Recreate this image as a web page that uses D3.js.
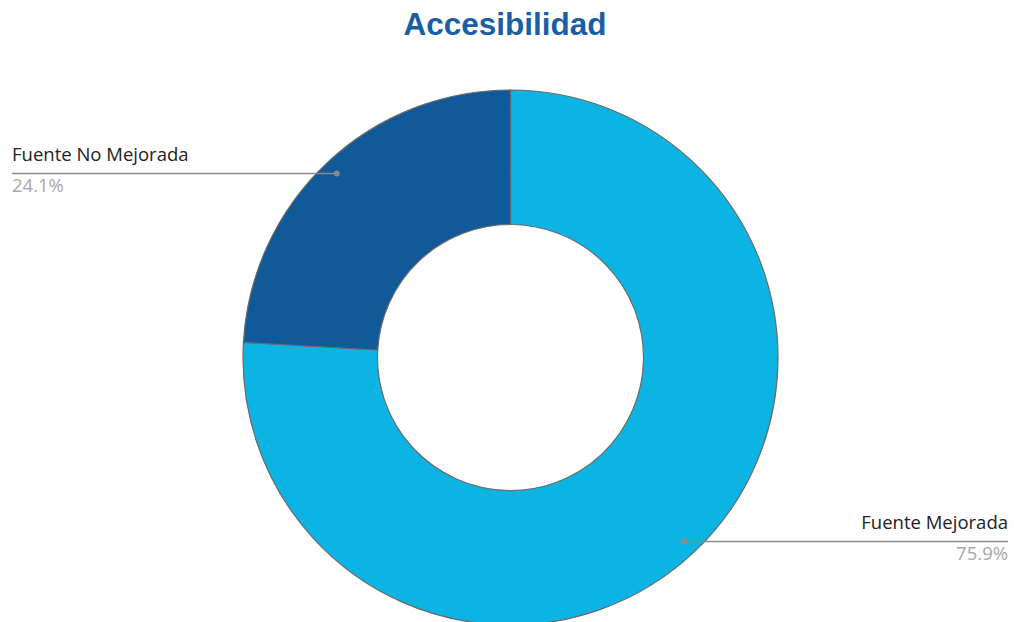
<!DOCTYPE html>
<html>
<head>
<meta charset="utf-8">
<script src="https://cdn.jsdelivr.net/npm/d3@7"></script>
<style>
  html, body { margin: 0; padding: 0; background: #ffffff; }
  svg { display: block; }
</style>
</head>
<body>
<svg id="chart" width="1014" height="622"></svg>
<script>
// Access to water source, share of households
const categories = ["Fuente Mejorada", "Fuente No Mejorada"];
const values = [75.9, 24.1];
const valueLabels = ["75.9%", "24.1%"];
const colors = ["#0cb4e4", "#115a99"];
const title = "Accesibilidad";

const svg = d3.select("#chart");
const cx = 510.5, cy = 357.5;
const outerR = 267.5, innerR = 133;

svg.append("text")
  .attr("x", 505)
  .attr("y", 35)
  .attr("text-anchor", "middle")
  .attr("font-family", "Liberation Sans, Arial, sans-serif")
  .attr("font-weight", "bold")
  .attr("font-size", 31.5)
  .attr("fill", "#1a5ea6")
  .text(title);

const data = categories.map((c, i) => ({ name: c, value: values[i], label: valueLabels[i], color: colors[i] }));

const pie = d3.pie().value(d => d.value).sort(null);
const arcs = pie(data);
const arc = d3.arc().innerRadius(innerR).outerRadius(outerR);

const g = svg.append("g").attr("transform", `translate(${cx},${cy})`);

g.selectAll("path.slice")
  .data(arcs)
  .join("path")
  .attr("class", "slice")
  .attr("d", arc)
  .attr("fill", d => d.data.color)
  .attr("stroke", "#6a6a6a")
  .attr("stroke-width", 1.2);

// Leader lines with labels
const anchorR = 253;
const labelFont = "Open Sans, Liberation Sans, sans-serif";
arcs.forEach(a => {
  const mid = (a.startAngle + a.endAngle) / 2;
  const px = Math.sin(mid) * anchorR;
  const py = -Math.cos(mid) * anchorR;
  const right = px > 0;
  const endX = right ? 1008 - cx : 12 - cx;

  g.append("line")
    .attr("x1", px).attr("y1", py)
    .attr("x2", endX).attr("y2", py)
    .attr("stroke", "#8a8a8a")
    .attr("stroke-width", 1.5);

  g.append("circle")
    .attr("cx", px).attr("cy", py)
    .attr("r", 3)
    .attr("fill", "#8a8a8a");

  g.append("text")
    .attr("x", endX)
    .attr("y", py - 12.5)
    .attr("text-anchor", right ? "end" : "start")
    .attr("font-family", labelFont)
    .attr("font-size", 18.5)
    .attr("fill", "#222222")
    .text(a.data.name);

  g.append("text")
    .attr("x", endX)
    .attr("y", py + 18.5)
    .attr("text-anchor", right ? "end" : "start")
    .attr("font-family", labelFont)
    .attr("font-size", 18.5)
    .attr("fill", "#a8a8a8")
    .text(a.data.label);
});
</script>
</body>
</html>
